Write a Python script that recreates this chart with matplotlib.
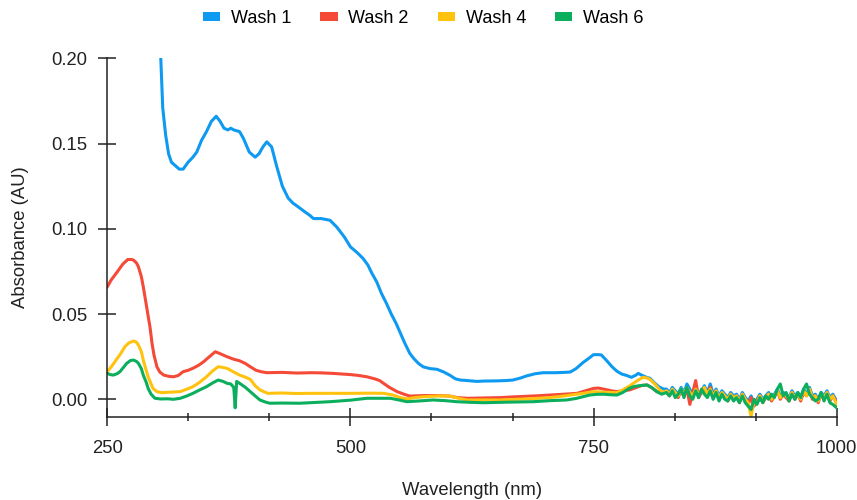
import matplotlib
matplotlib.use("Agg")
import matplotlib.pyplot as plt
from matplotlib.patches import Patch
from matplotlib.ticker import MultipleLocator, FormatStrFormatter

plt.rcParams["font.family"] = ["Liberation Sans", "DejaVu Sans"]

# ---- data: UV-Vis absorbance of successive washes ----
series_names = ["Wash 1", "Wash 2", "Wash 4", "Wash 6"]
colors = ["#0F9AF2", "#F44A37", "#FFC20E", "#0BAE5C"]

# shared grid for the noisy near-IR tail
tail_wl = [825, 828, 831, 834, 837, 840, 843, 846, 849, 852, 855, 858, 861, 864,
           867, 870, 873, 876, 879, 882, 885, 888, 891, 894, 897, 900, 903, 906,
           909, 912, 915, 918, 921, 924, 927, 930, 933, 936, 939, 942, 945, 948,
           951, 954, 957, 960, 963, 966, 969, 972, 975, 978, 981, 984, 987, 990,
           993, 996, 1000]

wash1_wl = [304, 305, 307, 310, 313, 316, 320, 324, 328, 333, 338, 342, 347, 352,
            357, 362, 366, 370, 374, 377, 380, 386, 390, 396, 402, 406, 410, 414,
            419, 424, 430, 436, 441, 446, 453, 458, 462, 470, 479, 486, 490, 494,
            500, 507, 513, 518, 522, 527, 532, 537, 542, 547, 552, 556, 561, 565,
            570, 575, 582, 589, 596, 602, 608, 613, 620, 630, 637, 650, 660, 667,
            675, 681, 690, 698, 710, 720, 726, 732, 739, 745, 750, 755, 758, 763,
            769, 774, 779, 784, 789, 793, 796, 800, 804, 808, 812, 817, 822]
wash1_abs = [0.212, 0.200, 0.171, 0.155, 0.144, 0.139, 0.137, 0.135, 0.135, 0.139,
             0.142, 0.145, 0.152, 0.157, 0.163, 0.166, 0.163, 0.159, 0.158, 0.159,
             0.158, 0.157, 0.153, 0.145, 0.142, 0.144, 0.148, 0.151, 0.148, 0.137,
             0.125, 0.118, 0.115, 0.113, 0.110, 0.108, 0.106, 0.106, 0.105, 0.101,
             0.098, 0.095, 0.0894, 0.086, 0.0826, 0.0787, 0.074, 0.0689, 0.062,
             0.0563, 0.050, 0.0445, 0.038, 0.0328, 0.027, 0.024, 0.021, 0.019,
             0.018, 0.0176, 0.016, 0.0142, 0.012, 0.0113, 0.011, 0.0105, 0.0107,
             0.0108, 0.011, 0.0113, 0.0125, 0.0137, 0.015, 0.0156, 0.0156, 0.0158,
             0.0160, 0.018, 0.0215, 0.024, 0.0262, 0.0262, 0.026, 0.023, 0.0191,
             0.0165, 0.0148, 0.014, 0.0129, 0.014, 0.0152, 0.014, 0.013, 0.0123,
             0.010, 0.0074, 0.006]
wash1_tail = [0.006, 0.004, 0.007, 0.005, 0.003, 0.007, 0.004, 0.009, 0.006, 0.003,
              0.007, 0.002, 0.005, 0.008, 0.004, 0.009, 0.003, 0.006, 0.002, 0.005,
              0.003, 0.001, 0.004, 0.002, 0.003, 0.000, 0.004, 0.001, -0.001, 0.002,
              -0.002, 0.000, 0.003, 0.000, 0.002, 0.004, 0.001, 0.003, 0.006, 0.002,
              0.004, 0.003, 0.001, 0.005, 0.002, 0.004, 0.001, 0.006, 0.003, 0.007,
              0.002, 0.003, 0.000, 0.004, 0.002, 0.005, 0.001, 0.003, -0.001]

wash2_wl = [250, 254, 259, 263, 266, 271, 275, 277, 280, 282, 285, 287, 289, 291,
            294, 296, 298, 301, 304, 308, 313, 318, 323, 328, 333, 338, 344, 349,
            355, 361, 365, 369, 373, 380, 386, 392, 397, 403, 408, 414, 430, 445,
            460, 470, 482, 492, 500, 508, 517, 525, 530, 534, 540, 548, 555, 561,
            575, 590, 602, 610, 620, 635, 654, 670, 690, 705, 720, 733, 742, 750,
            755, 762, 768, 774, 780, 787, 795, 800, 805, 810, 815, 820]
wash2_abs = [0.066, 0.070, 0.0738, 0.077, 0.0793, 0.082, 0.082, 0.0816, 0.080,
             0.0777, 0.072, 0.066, 0.059, 0.0523, 0.042, 0.0328, 0.026, 0.0191,
             0.016, 0.0142, 0.0135, 0.0132, 0.014, 0.0162, 0.017, 0.0182, 0.020,
             0.022, 0.025, 0.0279, 0.027, 0.026, 0.025, 0.0235, 0.0226, 0.021,
             0.0191, 0.017, 0.0162, 0.0156, 0.0158, 0.0154, 0.0156, 0.0155, 0.0152,
             0.0148, 0.0145, 0.014, 0.0132, 0.012, 0.011, 0.0094, 0.007, 0.0045,
             0.003, 0.0019, 0.0022, 0.0022, 0.0019, 0.001, 0.0006, 0.0008, 0.001,
             0.0015, 0.002, 0.0025, 0.003, 0.0035, 0.005, 0.0064, 0.0066, 0.0058,
             0.005, 0.0045, 0.005, 0.0055, 0.0072, 0.0082, 0.0084, 0.0068, 0.0045,
             0.004]
wash2_tail = [0.004, 0.002, 0.005, 0.003, 0.001, 0.005, 0.002, 0.006, -0.003, 0.004,
              0.011, 0.001, 0.004, 0.006, 0.002, 0.007, 0.001, 0.004, 0.000, 0.003,
              0.002, -0.001, 0.003, 0.000, 0.002, -0.002, 0.003, 0.000, -0.003, 0.001,
              -0.004, -0.001, 0.002, -0.002, 0.001, 0.003, -0.001, 0.002, 0.005, 0.000,
              0.003, 0.001, -0.001, 0.004, 0.000, 0.003, -0.001, 0.004, 0.002, 0.006,
              0.000, 0.002, -0.002, 0.003, 0.000, 0.004, -0.001, 0.002, -0.002]

wash4_wl = [250, 254, 259, 264, 268, 272, 277, 280, 282, 285, 287, 290, 292, 295,
            297, 301, 306, 315, 325, 332, 338, 345, 352, 358, 364, 368, 373, 380,
            386, 392, 397, 402, 407, 415, 430, 445, 458, 480, 500, 520, 534, 544,
            550, 558, 566, 575, 590, 602, 612, 620, 654, 680, 705, 720, 739, 750,
            760, 774, 780, 787, 795, 801, 805, 808, 813, 818, 822]
wash4_abs = [0.0162, 0.019, 0.023, 0.027, 0.0308, 0.033, 0.0342, 0.0335, 0.0318,
             0.028, 0.023, 0.017, 0.0132, 0.009, 0.0064, 0.0045, 0.0039, 0.0042,
             0.0045, 0.006, 0.0074, 0.010, 0.0132, 0.0165, 0.0191, 0.0188, 0.0182,
             0.016, 0.0142, 0.013, 0.0117, 0.008, 0.0055, 0.0035, 0.0037, 0.0034,
             0.0035, 0.0035, 0.0035, 0.0036, 0.0035, 0.0025, 0.0012, 0.0002, 0.001,
             0.0015, 0.002, 0.0019, 0.0005, -0.0004, -0.0004, 0.0002, 0.001, 0.002,
             0.0035, 0.0045, 0.0042, 0.0039, 0.0055, 0.0078, 0.011, 0.0129, 0.0125,
             0.0117, 0.009, 0.0055, 0.004]
wash4_tail = [0.005, 0.003, 0.006, 0.004, 0.002, 0.006, 0.003, 0.007, 0.004, 0.002,
              0.006, 0.003, 0.005, 0.007, 0.003, 0.006, 0.002, 0.005, 0.001, 0.004,
              0.002, 0.000, 0.003, 0.001, 0.002, -0.001, 0.003, 0.000, -0.002, -0.010,
              -0.001, -0.002, 0.002, -0.001, 0.001, 0.003, 0.000, 0.002, 0.005, 0.001,
              0.003, 0.002, 0.000, 0.004, 0.001, 0.003, 0.000, 0.005, 0.002, 0.006,
              0.001, 0.002, -0.001, 0.003, 0.001, 0.004, 0.000, 0.002, -0.003]

wash6_wl = [250, 253, 256, 260, 263, 267, 270, 274, 277, 280, 282, 285, 287, 290,
            292, 295, 299, 305, 312, 318, 325, 332, 338, 345, 352, 358, 364, 369,
            373, 377, 380, 381.5, 383, 387, 392, 397, 402, 407, 412, 417, 430, 448,
            465, 479, 500, 517, 530, 541, 550, 558, 570, 585, 598, 609, 625, 637,
            660, 688, 705, 722, 732, 739, 746, 753, 760, 767, 774, 780, 787, 791,
            797, 805, 810, 815, 820]
wash6_abs = [0.0152, 0.0145, 0.0142, 0.015, 0.0162, 0.019, 0.0211, 0.0228, 0.023,
             0.0222, 0.0211, 0.018, 0.0142, 0.010, 0.0064, 0.003, 0.0006, 0.0002,
             0.0003, 0.0, 0.0006, 0.002, 0.0035, 0.0055, 0.0074, 0.0095, 0.0113,
             0.0105, 0.0094, 0.009, 0.007, -0.005, 0.0105, 0.009, 0.007, 0.0045,
             0.002, -0.0004, -0.0015, -0.0023, -0.0022, -0.0023, -0.0018, -0.0014,
             -0.0005, 0.0006, 0.0006, 0.0006, -0.0004, -0.0014, -0.001, -0.0004,
             -0.0008, -0.0014, -0.0018, -0.002, -0.0017, -0.0014, -0.0008, -0.0004,
             0.0005, 0.0015, 0.0025, 0.0029, 0.003, 0.0027, 0.0025, 0.004, 0.0065,
             0.0074, 0.008, 0.0084, 0.0068, 0.0045, 0.003]
wash6_tail = [0.004, 0.002, 0.005, 0.001, 0.003, 0.006, 0.001, 0.007, 0.002, 0.000,
              0.005, 0.001, 0.006, 0.003, 0.001, 0.005, 0.000, 0.004, -0.001, 0.003,
              0.000, -0.001, 0.002, -0.001, 0.001, -0.002, 0.002, -0.002, -0.004, -0.006,
              0.000, -0.003, 0.001, -0.002, 0.002, 0.000, 0.003, 0.001, 0.006, 0.009,
              0.002, 0.004, -0.001, 0.003, 0.000, 0.004, 0.001, 0.006, 0.009, 0.003,
              0.001, -0.001, 0.000, 0.004, -0.001, 0.003, -0.002, -0.003, -0.005]

x_ticks = [250, 500, 750, 1000]

wavelengths = [wash1_wl + tail_wl, wash2_wl + tail_wl,
               wash4_wl + tail_wl, wash6_wl + tail_wl]
absorbances = [wash1_abs + wash1_tail, wash2_abs + wash2_tail,
               wash4_abs + wash4_tail, wash6_abs + wash6_tail]

# ---- figure ----
fig = plt.figure(figsize=(8.57, 5.0), dpi=100)
ax = fig.add_axes([0.1252, 0.1666, 0.8511, 0.7168])

for wl, ab, col in zip(wavelengths, absorbances, colors):
    ax.plot(wl, ab, color=col, lw=2.2, solid_joinstyle="round")

ax.set_xlim(250, 1000)
ax.set_ylim(-0.0102, 0.20)

for side in ("top", "right"):
    ax.spines[side].set_visible(False)
for side in ("left", "bottom"):
    ax.spines[side].set_linewidth(1.1)
    ax.spines[side].set_color("#222222")

ax.set_xticks(x_ticks)
ax.xaxis.set_minor_locator(MultipleLocator(250 / 3))
ax.yaxis.set_major_locator(MultipleLocator(0.05))
ax.yaxis.set_major_formatter(FormatStrFormatter("%.2f"))

ax.tick_params(axis="x", which="major", direction="inout", length=13, width=1.1,
               color="#222222", labelsize=13.3, pad=10, labelcolor="#222222")
ax.tick_params(axis="x", which="minor", direction="inout", length=6, width=1.1,
               color="#222222")
ax.tick_params(axis="y", which="major", direction="inout", length=13, width=1.1,
               color="#222222", labelsize=13.3, pad=8, labelcolor="#222222")

ax.set_xlabel("Wavelength (nm)", fontsize=13.3, labelpad=18, color="#222222")
ax.set_ylabel("Absorbance (AU)", fontsize=13.3, labelpad=16, color="#222222")

handles = [Patch(facecolor=c, edgecolor="none") for c in colors]
fig.legend(handles, series_names, loc="center", bbox_to_anchor=(0.494, 0.963),
           ncol=4, frameon=False, fontsize=13, handlelength=0.95,
           handleheight=0.4, handletextpad=0.6, columnspacing=1.6)

fig.savefig("out.png", dpi=100)
